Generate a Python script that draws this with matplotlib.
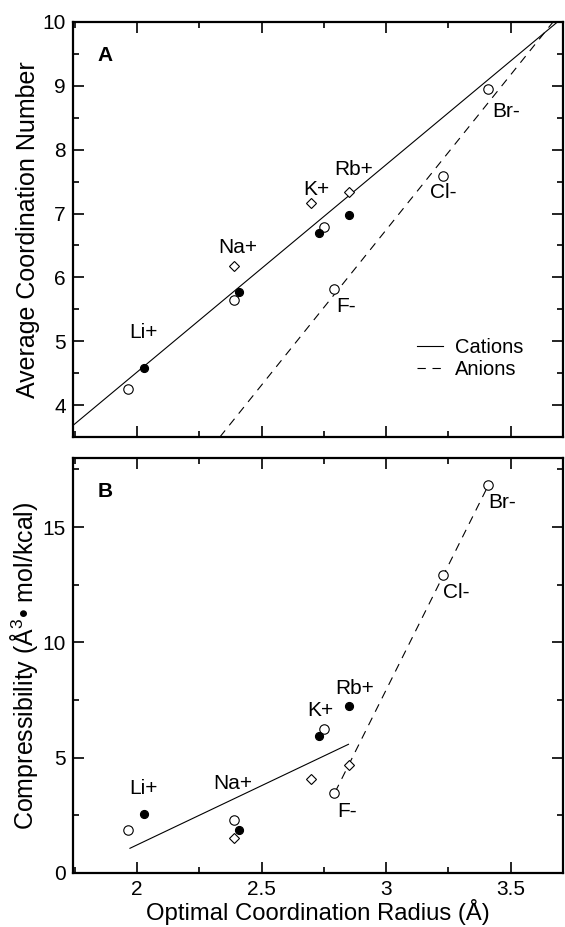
import numpy as np
import matplotlib
matplotlib.use("Agg")
import matplotlib.pyplot as plt
from matplotlib.ticker import MultipleLocator

plt.rcParams['font.family'] = ['Liberation Sans', 'DejaVu Sans']
plt.rcParams['mathtext.fontset'] = 'custom'
plt.rcParams['mathtext.rm'] = 'Liberation Sans'

# optimal coordination radius (A) for each marker set
open_x = [1.965, 2.39, 2.75, 2.79, 3.23, 3.41]      # Li+, Na+, K+, F-, Cl-, Br-
filled_x = [2.027, 2.408, 2.73, 2.85]               # Li+, Na+, K+, Rb+
diamond_x = [2.39, 2.70, 2.85]                      # Na+, K+, Rb+

# panel A: average coordination number
open_cn = [4.25, 5.645, 6.79, 5.81, 7.59, 8.95]
filled_cn = [4.58, 5.77, 6.70, 6.98]
diamond_cn = [6.18, 7.16, 7.33]

# panel B: compressibility
open_comp = [1.86, 2.29, 6.26, 3.45, 12.91, 16.82]
filled_comp = [2.55, 1.86, 5.94, 7.22]
diamond_comp = [1.50, 4.09, 4.67]

# fitted trend lines (end points)
cat_fit_x_a = [1.74, 3.70]
cat_fit_y_a = [3.67, 10.04]
an_fit_x_a = [2.333, 3.67]
an_fit_y_a = [3.50, 10.0]
cat_fit_x_b = [1.972, 2.849]
cat_fit_y_b = [1.07, 5.58]
an_fit_x_b = [2.795, 3.405]
an_fit_y_b = [3.50, 16.70]

# ion labels: (text, x, y)
labels_a = [("Li+", 2.025, 5.13), ("Na+", 2.405, 6.46), ("K+", 2.72, 7.38),
            ("Rb+", 2.87, 7.69), ("F-", 2.84, 5.55), ("Cl-", 3.23, 7.33),
            ("Br-", 3.48, 8.60)]
labels_b = [("Li+", 2.028, 3.66), ("Na+", 2.383, 3.88), ("K+", 2.735, 7.05),
            ("Rb+", 2.872, 7.98), ("F-", 2.842, 2.65), ("Cl-", 3.28, 12.16),
            ("Br-", 3.465, 16.05)]

dash = (0, (7.5, 6))

fig = plt.figure(figsize=(5.65, 9.27), dpi=100)
axA = fig.add_axes([0.129, 0.5286, 0.8675, 0.4477])
axB = fig.add_axes([0.129, 0.0583, 0.8675, 0.4477])


def draw_points(ax, yo, yf, yd):
    ax.plot(open_x, yo, 'o', ms=6.8, mfc='white', mec='black', mew=0.8, zorder=3)
    ax.plot(filled_x, yf, 'o', ms=5.8, mfc='black', mec='black', mew=0.8, zorder=4)
    ax.plot(diamond_x, yd, 'D', ms=5.0, mfc='white', mec='black', mew=0.8, zorder=3)


def style_axes(ax):
    for s in ax.spines.values():
        s.set_linewidth(1.6)
    ax.tick_params(which='both', direction='in', top=True, right=True,
                   labelsize=15, width=1.2, pad=5)
    ax.tick_params(which='major', length=8)
    ax.tick_params(which='minor', length=4)
    ax.xaxis.set_major_locator(MultipleLocator(0.5))
    ax.xaxis.set_minor_locator(MultipleLocator(0.25))
    ax.set_xlim(1.743, 3.71)


# panel A
axA.plot(cat_fit_x_a, cat_fit_y_a, color='black', lw=0.8, label='Cations')
axA.plot(an_fit_x_a, an_fit_y_a, color='black', lw=0.8, ls=dash, label='Anions')
draw_points(axA, open_cn, filled_cn, diamond_cn)
for t, x, y in labels_a:
    axA.text(x, y, t, fontsize=15, ha='center', va='center')
style_axes(axA)
axA.set_ylim(3.5, 10)
axA.yaxis.set_major_locator(MultipleLocator(1))
axA.yaxis.set_minor_locator(MultipleLocator(0.5))
axA.tick_params(labelbottom=False)
axA.set_ylabel("Average Coordination Number", fontsize=18)
axA.yaxis.set_label_coords(-0.068, 0.5)
axA.text(0.05, 0.92, "A", transform=axA.transAxes, fontsize=15,
         fontweight='bold', ha='left', va='center')
axA.legend(loc='center left', bbox_to_anchor=(0.702, 0.19), frameon=False,
           fontsize=14.5, handlelength=1.3, handletextpad=0.6,
           labelspacing=0.15, borderpad=0, borderaxespad=0)

# panel B
axB.plot(cat_fit_x_b, cat_fit_y_b, color='black', lw=0.8)
axB.plot(an_fit_x_b, an_fit_y_b, color='black', lw=0.8, ls=dash)
draw_points(axB, open_comp, filled_comp, diamond_comp)
for t, x, y in labels_b:
    axB.text(x, y, t, fontsize=15, ha='center', va='center')
style_axes(axB)
axB.set_ylim(0, 18)
axB.yaxis.set_major_locator(MultipleLocator(5))
axB.yaxis.set_minor_locator(MultipleLocator(2.5))
axB.set_xticks([2, 2.5, 3, 3.5])
axB.set_xticklabels(["2", "2.5", "3", "3.5"])
axB.set_ylabel("Compressibility (Å$^{3}$\u2022 mol/kcal)", fontsize=18)
axB.yaxis.set_label_coords(-0.068, 0.5)
axB.set_xlabel("Optimal Coordination Radius (Å)", fontsize=17.2, labelpad=0)
axB.text(0.05, 0.92, "B", transform=axB.transAxes, fontsize=15,
         fontweight='bold', ha='left', va='center')

fig.savefig("out.png", dpi=100)
